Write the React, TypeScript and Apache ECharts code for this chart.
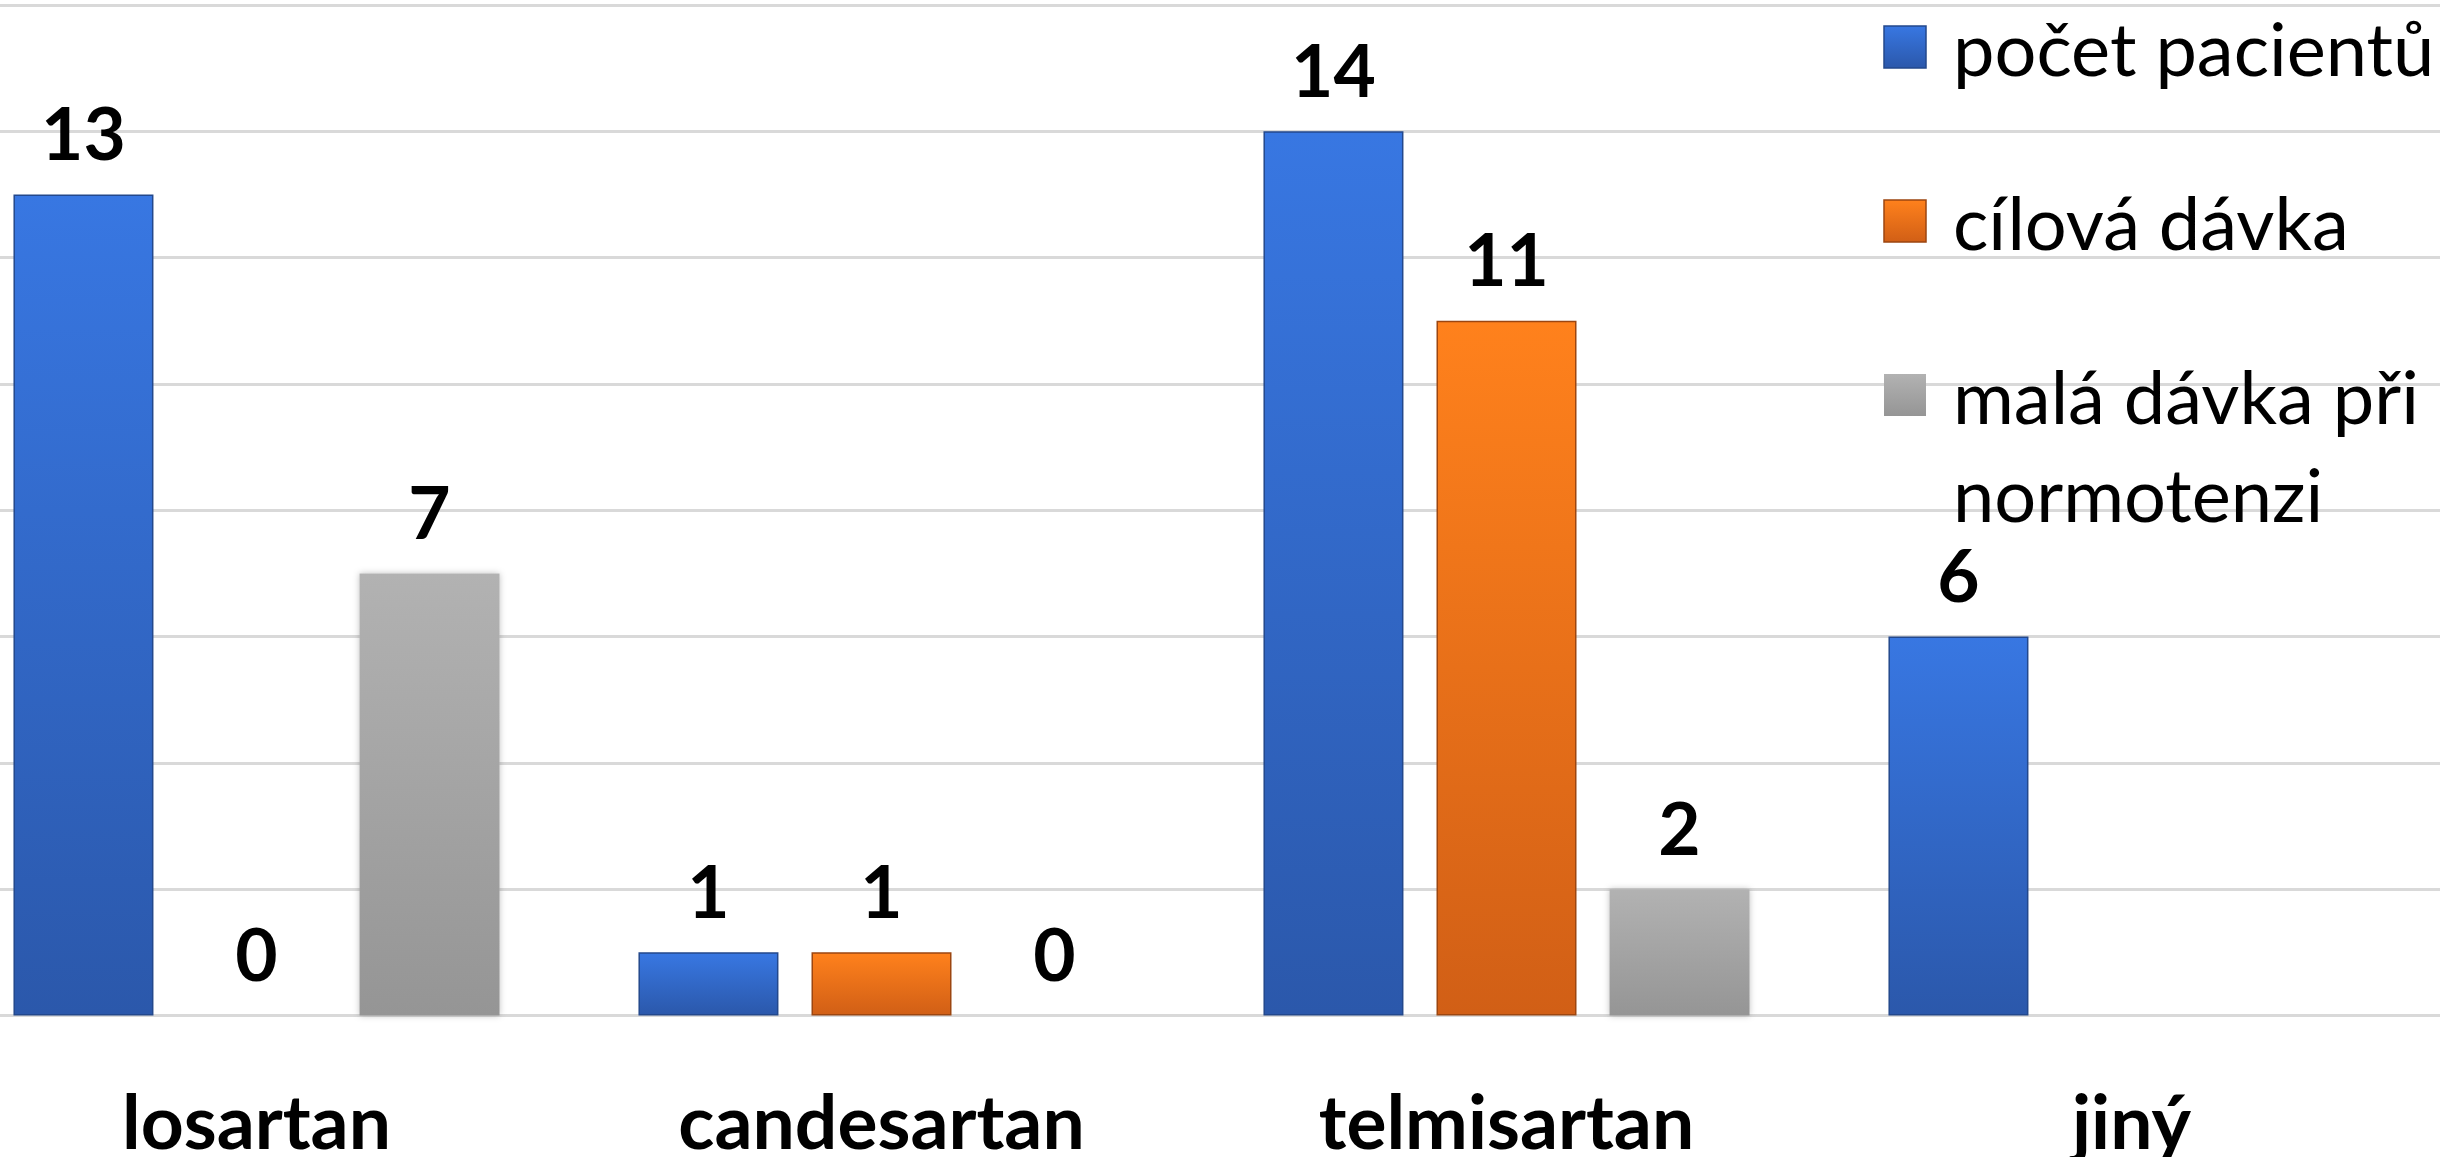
import React, { useEffect, useRef } from "react";
import * as echarts from "echarts";

const categories = ["losartan", "candesartan", "telmisartan", "jiný"];
const seriesNames = ["počet pacientů", "cílová dávka", "malá dávka při normotenzi"];
const legendLabels = ["počet pacientů", "cílová dávka", "malá dávka při\nnormotenzi"];
const patients = [13, 1, 14, 6];
const targetDose = [0, 1, 11, null];
const lowDose = [7, 0, 2, null];
const yTicks = { min: 0, max: 16, interval: 2 };

const grad = (top: string, bottom: string) =>
  new echarts.graphic.LinearGradient(0, 0, 0, 1, [
    { offset: 0, color: top },
    { offset: 1, color: bottom },
  ]);

const palette = [
  { top: "#3877e2", bottom: "#2b58ab", border: "#23488c" },
  { top: "#ff811c", bottom: "#d15f16", border: "#9c4610" },
  { top: "#b2b2b2", bottom: "#959595", border: "#8c8c8c" },
];

const OFFSET_X = -56;
const CHART_W = 2500;

export default function App() {
  const ref = useRef<HTMLDivElement>(null);
  useEffect(() => {
    if (!ref.current) return;
    const chart = echarts.init(ref.current, undefined, { renderer: "svg" });
    const values = [patients, targetDose, lowDose];
    const font = "Lato";
    const legendIconX = 1884 - OFFSET_X;
    const legendTextX = 1953 - OFFSET_X;
    const legendCenters = [47, 221, 395];
    const graphic: any[] = [];
    legendLabels.forEach((lbl, i) => {
      const c = legendCenters[i];
      graphic.push({
        type: "rect",
        shape: { x: legendIconX, y: c - 21, width: 42, height: 42 },
        style: {
          fill: grad(palette[i].top, palette[i].bottom),
          stroke: i === 2 ? "none" : palette[i].border,
          lineWidth: 1.5,
        },
        z: 10,
      });
      graphic.push({
        type: "text",
        x: legendTextX,
        y: c - 49,
        style: {
          text: lbl,
          fontFamily: font,
          fontSize: 74,
          lineHeight: 98,
          fill: "#000",
          verticalAlign: "top",
          align: "left",
        },
        z: 10,
      });
    });
    chart.setOption({
      animation: false,
      backgroundColor: "#ffffff",
      grid: { left: 0, right: 0, top: 5, bottom: 141, containLabel: false },
      xAxis: {
        type: "category",
        data: categories,
        axisLine: { show: true, lineStyle: { color: "#d9d9d9", width: 3 } },
        axisTick: { show: false },
        axisLabel: {
          margin: 74,
          lineHeight: 60,
          color: "#000",
          fontFamily: font,
          fontWeight: "bold",
          fontSize: 75,
          interval: 0,
        },
      },
      yAxis: {
        type: "value",
        min: yTicks.min,
        max: yTicks.max,
        interval: yTicks.interval,
        axisLabel: { show: false },
        axisLine: { show: false },
        axisTick: { show: false },
        splitLine: { lineStyle: { color: "#d9d9d9", width: 3 } },
      },
      graphic,
      series: seriesNames.map((name, i) => ({
        name,
        type: "bar",
        data: values[i].map((v) =>
          v === 0 ? { value: v, itemStyle: { borderWidth: 0, shadowBlur: 0 } } : v
        ),
        barWidth: 140,
        barGap: "23.6%",
        itemStyle: {
          color: grad(palette[i].top, palette[i].bottom),
          borderColor: palette[i].border,
          borderWidth: i === 2 ? 0 : 1.5,
          shadowColor: i === 2 ? "rgba(0,0,0,0.25)" : "rgba(0,0,0,0)",
          shadowBlur: i === 2 ? 6 : 0,
        },
        label: {
          show: true,
          position: "top",
          distance: 26,
          color: "#000",
          fontFamily: font,
          fontWeight: "bold",
          fontSize: 73,
        },
      })),
    });
    return () => chart.dispose();
  }, []);
  return (
    <div
      style={{
        position: "fixed",
        left: 0,
        top: 0,
        width: 2440,
        height: 1157,
        overflow: "hidden",
        background: "#fff",
      }}
    >
      <div
        ref={ref}
        style={{ position: "absolute", left: OFFSET_X, top: 0, width: CHART_W, height: 1157 }}
      />
    </div>
  );
}
